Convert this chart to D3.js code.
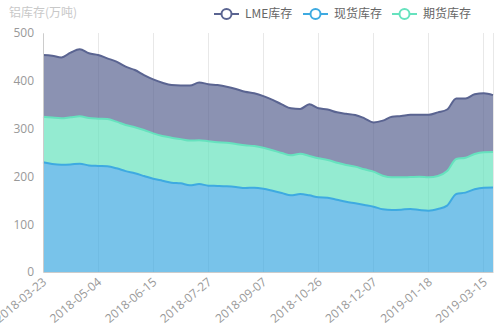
<!DOCTYPE html>
<html>
<head>
<meta charset="utf-8">
<script src="https://cdn.jsdelivr.net/npm/d3@7/dist/d3.min.js"></script>
<style>
  body { margin: 0; background: #fff; }
  svg { display: block; font-family: "Microsoft YaHei", "Noto Sans CJK SC", "Noto Sans", sans-serif; }
</style>
</head>
<body>
<svg id="chart" width="500" height="330"></svg>
<script>
// Weekly inventory dates
const dates = [
  "2018-03-23","2018-03-30","2018-04-06","2018-04-13","2018-04-20","2018-04-27",
  "2018-05-04","2018-05-11","2018-05-18","2018-05-25","2018-06-01","2018-06-08",
  "2018-06-15","2018-06-22","2018-06-29","2018-07-06","2018-07-13","2018-07-20",
  "2018-07-27","2018-08-03","2018-08-10","2018-08-17","2018-08-24","2018-08-31",
  "2018-09-07","2018-09-14","2018-09-21","2018-09-28","2018-10-12","2018-10-19",
  "2018-10-26","2018-11-02","2018-11-09","2018-11-16","2018-11-23","2018-11-30",
  "2018-12-07","2018-12-14","2018-12-21","2018-12-28","2019-01-04","2019-01-11",
  "2019-01-18","2019-01-25","2019-02-01","2019-02-22","2019-03-01","2019-03-08",
  "2019-03-15","2019-03-22"
];

// 现货库存 (万吨)
const spotStock = [
  229.4,226.0,224.5,225.0,226.6,223.0,221.8,221.0,216.9,211.0,
  206.4,200.8,195.0,191.0,186.9,185.5,181.5,184.0,180.6,180.0,
  179.2,177.8,175.7,176.4,174.3,170.0,165.3,160.4,163.2,160.4,
  156.2,155.5,151.3,147.0,143.7,140.2,136.7,131.2,129.7,130.4,
  131.8,129.7,128.3,131.8,138.8,163.2,166.0,173.0,176.4,177.0
];

// 期货库存 (万吨)
const futuresStock = [
  95.6,97.0,97.0,98.6,99.0,99.0,99.0,99.0,97.6,96.5,
  96.3,96.2,95.0,93.5,94.1,92.5,93.5,91.7,92.8,91.3,
  91.3,90.0,89.3,87.2,85.7,84.6,83.7,83.6,84.4,82.3,
  81.6,78.8,77.4,76.8,76.7,74.6,73.2,70.3,68.3,67.6,
  66.9,69.7,69.7,69.0,72.5,73.2,73.2,73.9,74.0,74.0
];

// LME库存 (万吨)
const lmeStock = [
  129.0,129.5,127.5,135.4,140.4,135.5,133.2,127.0,125.5,122.0,
  119.9,115.0,113.0,111.5,110.0,112.0,115.0,120.8,119.6,119.7,
  117.2,115.2,112.0,110.2,108.0,105.4,101.8,98.4,93.4,108.1,
  104.6,105.7,105.3,107.2,108.1,106.7,103.1,115.1,127.0,128.4,
  130.3,129.6,131.0,133.2,128.7,126.6,123.8,124.8,123.4,119.0
];

const yTicks = [0, 100, 200, 300, 400, 500];
const labelEvery = 6;

// Series in stacking order (bottom to top)
const seriesDefs = [
  { key: "spot",    name: "现货库存", values: spotStock,    color: "#3eaae1" },
  { key: "futures", name: "期货库存", values: futuresStock, color: "#66e2be" },
  { key: "lme",     name: "LME库存",  values: lmeStock,     color: "#5a6491" }
];
const legendOrder = ["lme", "spot", "futures"];

const svg = d3.select("#chart");
const margin = { left: 43, right: 7, top: 33, bottom: 58 };
const W = 500, H = 330;
const x0 = margin.left, x1 = W - margin.right;
const y0 = H - margin.bottom, y1 = margin.top;

const table = dates.map((d, i) => {
  const row = { date: d };
  seriesDefs.forEach(s => row[s.key] = s.values[i]);
  return row;
});
const stacked = d3.stack().keys(seriesDefs.map(s => s.key))(table);

const x = d3.scalePoint().domain(dates).range([x0, x1]);
const y = d3.scaleLinear().domain([0, 500]).range([y0, y1]);

// Vertical split lines at labelled categories
const tickDates = dates.filter((d, i) => i % labelEvery === 0);
svg.append("g").selectAll("line")
  .data(tickDates.concat([dates[dates.length - 1]]))
  .join("line")
  .attr("x1", d => x(d)).attr("x2", d => x(d))
  .attr("y1", y1).attr("y2", y0)
  .attr("stroke", "#e8e8e8").attr("stroke-width", 1)
  .attr("shape-rendering", "crispEdges");

const curve = d3.curveMonotoneX;
const area = d3.area()
  .x(d => x(d.data.date))
  .y0(d => y(d[0]))
  .y1(d => y(d[1]))
  .curve(curve);
const line = d3.line()
  .x(d => x(d.data.date))
  .y(d => y(d[1]))
  .curve(curve);

const layers = svg.append("g");
stacked.forEach((layer, k) => {
  const s = seriesDefs[k];
  layers.append("path").datum(layer)
    .attr("d", area)
    .attr("fill", s.color).attr("fill-opacity", 0.7);
});
stacked.forEach((layer, k) => {
  const s = seriesDefs[k];
  layers.append("path").datum(layer)
    .attr("d", line)
    .attr("fill", "none")
    .attr("stroke", s.color).attr("stroke-width", 2)
    .attr("stroke-linejoin", "round");
});

// Y axis
const yAxis = d3.axisLeft(y).tickValues(yTicks).tickSize(0).tickPadding(9);
const gy = svg.append("g").attr("transform", `translate(${x0},0)`).call(yAxis);
gy.select(".domain").attr("stroke", "#cccccc");
gy.selectAll("text").attr("fill", "#999").attr("font-size", 12)
  .style("font-family", "'Open Sans', sans-serif");

// X axis with rotated labels anchored at each tick
const xAxis = d3.axisBottom(x).tickValues(tickDates).tickSize(0).tickPadding(0);
const gx = svg.append("g").attr("transform", `translate(0,${y0})`).call(xAxis);
gx.select(".domain").attr("stroke", "#cccccc");
gx.selectAll("text")
  .attr("fill", "#999").attr("font-size", 12)
  .style("font-family", "'Open Sans', sans-serif")
  .attr("text-anchor", "end")
  .attr("x", 0).attr("y", 0)
  .attr("dy", "0.35em")
  .attr("transform", "translate(1,8) rotate(-40)");

// Axis name
svg.append("text")
  .attr("x", 9).attr("y", 17)
  .attr("fill", "#c8c8c8").attr("font-size", 12)
  .text("铝库存(万吨)");

// Legend
const legend = svg.append("g");
const legendX = [214, 303, 392];
legendOrder.forEach((key, i) => {
  const s = seriesDefs.find(d => d.key === key);
  const g = legend.append("g").attr("transform", `translate(${legendX[i]},14)`);
  g.append("line").attr("x1", 0).attr("x2", 25).attr("y1", 0).attr("y2", 0)
    .attr("stroke", s.color).attr("stroke-width", 2);
  g.append("circle").attr("cx", 12.5).attr("cy", 0).attr("r", 5)
    .attr("fill", "#fff").attr("stroke", s.color).attr("stroke-width", 2);
  g.append("text").attr("x", 31).attr("y", 0).attr("dy", "0.35em")
    .attr("fill", "#666").attr("font-size", 12)
    .text(s.name);
});
</script>
</body>
</html>
